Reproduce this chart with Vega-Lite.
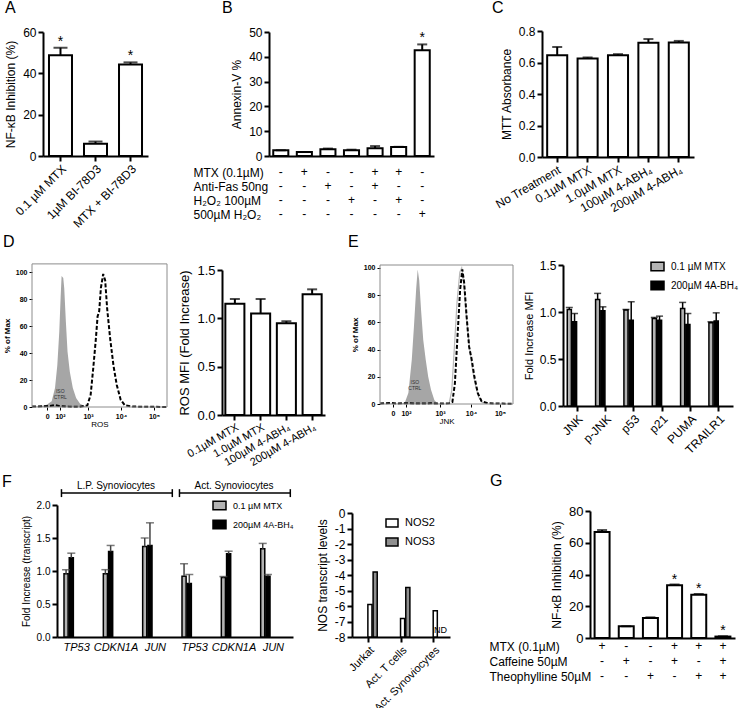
{
  "$schema": "https://vega.github.io/schema/vega-lite/v6.json",
  "padding": 0,
  "background": "white",
  "usermeta": {"embedOptions": {"actions": false}},
  "spacing": 0,
  "resolve": {"legend": {"color": "independent", "fill": "independent"}, "scale": {"color": "independent", "fill": "independent"}},
  "config": {
    "font": "Liberation Sans",
    "view": {"stroke": null},
    "axis": {"grid": false, "domainColor": "black", "domainWidth": 2, "tickColor": "black", "tickWidth": 2, "tickSize": 5, "labelColor": "black", "labelFontSize": 11, "titleFontSize": 11, "titleFontWeight": "normal", "titleColor": "black", "labelPadding": 2, "labelOverlap": false, "labelFlush": false, "titlePadding": 5},
    "legend": {"labelColor": "black", "labelFontSize": 10, "symbolStrokeColor": "black", "symbolStrokeWidth": 1.5, "rowPadding": 4, "labelOffset": 6, "padding": 0, "symbolType": "M-1,-0.65H1V0.65H-1Z", "symbolSize": 169, "title": null},
    "title": {"anchor": "start", "frame": "group", "offset": 0, "baseline": "alphabetic", "fontSize": 16, "fontWeight": "normal", "color": "black"},
    "text": {"color": "black"}
  },
  "vconcat": [
    {
      "spacing": 0, "bounds": "flush",
      "hconcat": [
        {
          "width": 230, "height": 230,
          "title": {"text": "A", "dx": 5, "dy": 16},
          "data": {"values": [
            {"t": "0.1 µM MTX", "value": 48.8, "upper": 52.4, "sig": "*"},
            {"t": "1µM BI-78D3", "value": 5.9, "upper": 7.0, "sig": ""},
            {"t": "MTX + BI-78D3", "value": 44.3, "upper": 45.3, "sig": "*"}
          ]},
          "encoding": {"x": {"field": "t", "type": "nominal", "sort": null, "scale": {"range": [43, 148], "paddingInner": 0.343, "paddingOuter": 0.171}, "axis": {"title": null, "labelAngle": -45, "offset": -78, "labelFontSize": 12}}},
          "layer": [
            {"mark": {"type": "bar", "fill": "white", "stroke": "black", "strokeWidth": 2},
             "encoding": {"y": {"field": "value", "type": "quantitative", "scale": {"domain": [0, 60], "range": [152, 28], "nice": false}, "axis": {"title": "NF-κB Inhibition (%)", "values": [0, 20, 40, 60], "offset": -43, "titleFontSize": 12, "labelFontSize": 12}}}},
            {"mark": {"type": "rule", "color": "black", "strokeWidth": 2}, "encoding": {"y": {"field": "value", "type": "quantitative"}, "y2": {"field": "upper"}}},
            {"mark": {"type": "tick", "color": "black", "thickness": 2, "size": 14}, "encoding": {"y": {"field": "upper", "type": "quantitative"}}},
            {"mark": {"type": "text", "fontSize": 14, "baseline": "alphabetic", "dy": -2}, "encoding": {"y": {"field": "upper", "type": "quantitative"}, "text": {"field": "sig"}}}
          ]
        },
        {
          "width": 260, "height": 230,
          "title": {"text": "B", "dx": -8, "dy": 16},
          "resolve": {"scale": {"y": "independent"}, "axis": {"y": "independent"}},
          "layer": [
            {
              "data": {"values": [
                {"bar": "1", "value": 2.3, "upper": 2.3, "sig": ""},
                {"bar": "2", "value": 1.6, "upper": 1.6, "sig": ""},
                {"bar": "3", "value": 2.7, "upper": 3.0, "sig": ""},
                {"bar": "4", "value": 2.3, "upper": 2.55, "sig": ""},
                {"bar": "5", "value": 3.1, "upper": 4.0, "sig": ""},
                {"bar": "6", "value": 3.6, "upper": 3.7, "sig": ""},
                {"bar": "7", "value": 42.6, "upper": 45.0, "sig": "*"}
              ]},
              "encoding": {"x": {"field": "bar", "type": "nominal", "sort": null, "scale": {"range": [39, 204], "paddingInner": 0.36, "paddingOuter": 0.18}, "axis": {"title": null, "labels": false, "ticks": false, "offset": -78}}},
              "layer": [
                {"mark": {"type": "bar", "fill": "white", "stroke": "black", "strokeWidth": 2},
                 "encoding": {"y": {"field": "value", "type": "quantitative", "scale": {"domain": [0, 50], "range": [152, 28], "nice": false}, "axis": {"title": "Annexin-V %", "values": [0, 10, 20, 30, 40, 50], "offset": -39, "titleFontSize": 12, "labelFontSize": 12}}}},
                {"mark": {"type": "rule", "color": "black", "strokeWidth": 2}, "encoding": {"y": {"field": "value", "type": "quantitative"}, "y2": {"field": "upper"}}},
                {"mark": {"type": "tick", "color": "black", "thickness": 2, "size": 10}, "encoding": {"y": {"field": "upper", "type": "quantitative"}}},
                {"mark": {"type": "text", "fontSize": 14, "baseline": "alphabetic", "dy": -2}, "encoding": {"y": {"field": "upper", "type": "quantitative"}, "text": {"field": "sig"}}}
              ]
            },
            {
              "data": {"values": [
                {"bar": "1", "cond": "MTX (0.1µM)", "sign": "-"}, {"bar": "2", "cond": "MTX (0.1µM)", "sign": "+"}, {"bar": "3", "cond": "MTX (0.1µM)", "sign": "-"}, {"bar": "4", "cond": "MTX (0.1µM)", "sign": "-"}, {"bar": "5", "cond": "MTX (0.1µM)", "sign": "+"}, {"bar": "6", "cond": "MTX (0.1µM)", "sign": "+"}, {"bar": "7", "cond": "MTX (0.1µM)", "sign": "-"},
                {"bar": "1", "cond": "Anti-Fas 50ng", "sign": "-"}, {"bar": "2", "cond": "Anti-Fas 50ng", "sign": "-"}, {"bar": "3", "cond": "Anti-Fas 50ng", "sign": "+"}, {"bar": "4", "cond": "Anti-Fas 50ng", "sign": "-"}, {"bar": "5", "cond": "Anti-Fas 50ng", "sign": "+"}, {"bar": "6", "cond": "Anti-Fas 50ng", "sign": "-"}, {"bar": "7", "cond": "Anti-Fas 50ng", "sign": "-"},
                {"bar": "1", "cond": "H₂O₂ 100µM", "sign": "-"}, {"bar": "2", "cond": "H₂O₂ 100µM", "sign": "-"}, {"bar": "3", "cond": "H₂O₂ 100µM", "sign": "-"}, {"bar": "4", "cond": "H₂O₂ 100µM", "sign": "+"}, {"bar": "5", "cond": "H₂O₂ 100µM", "sign": "-"}, {"bar": "6", "cond": "H₂O₂ 100µM", "sign": "+"}, {"bar": "7", "cond": "H₂O₂ 100µM", "sign": "-"},
                {"bar": "1", "cond": "500µM H₂O₂", "sign": "-"}, {"bar": "2", "cond": "500µM H₂O₂", "sign": "-"}, {"bar": "3", "cond": "500µM H₂O₂", "sign": "-"}, {"bar": "4", "cond": "500µM H₂O₂", "sign": "-"}, {"bar": "5", "cond": "500µM H₂O₂", "sign": "-"}, {"bar": "6", "cond": "500µM H₂O₂", "sign": "-"}, {"bar": "7", "cond": "500µM H₂O₂", "sign": "+"}
              ]},
              "mark": {"type": "text", "fontSize": 12},
              "encoding": {
                "x": {"field": "bar", "type": "nominal", "sort": null, "title": null},
                "y": {"field": "cond", "type": "nominal", "sort": null, "scale": {"range": [168, 210], "padding": 0}, "axis": {"orient": "left", "title": null, "domain": false, "ticks": false, "tickSize": 0, "labelAlign": "left", "labelPadding": 37, "labelFontSize": 12}},
                "text": {"field": "sign"}
              }
            }
          ]
        },
        {
          "width": 250, "height": 230,
          "title": {"text": "C", "dx": 2, "dy": 16},
          "data": {"values": [
            {"t": "No Treatment", "value": 0.646, "upper": 0.699},
            {"t": "0.1µM MTX", "value": 0.625, "upper": 0.632},
            {"t": "1.0µM MTX", "value": 0.646, "upper": 0.653},
            {"t": "100µM 4-ABH₄", "value": 0.726, "upper": 0.749},
            {"t": "200µM 4-ABH₄", "value": 0.727, "upper": 0.737}
          ]},
          "encoding": {"x": {"field": "t", "type": "nominal", "sort": null, "scale": {"range": [52, 204], "paddingInner": 0.34, "paddingOuter": 0.17}, "axis": {"title": null, "labelAngle": -30, "offset": -77, "labelFontSize": 12}}},
          "layer": [
            {"mark": {"type": "bar", "fill": "white", "stroke": "black", "strokeWidth": 2},
             "encoding": {"y": {"field": "value", "type": "quantitative", "scale": {"domain": [0, 0.8], "range": [153, 27], "nice": false}, "axis": {"title": "MTT Absorbance", "values": [0, 0.2, 0.4, 0.6, 0.8], "format": ".1f", "offset": -52, "titleFontSize": 12, "labelFontSize": 12}}}},
            {"mark": {"type": "rule", "color": "black", "strokeWidth": 2}, "encoding": {"y": {"field": "value", "type": "quantitative"}, "y2": {"field": "upper"}}},
            {"mark": {"type": "tick", "color": "black", "thickness": 2, "size": 10}, "encoding": {"y": {"field": "upper", "type": "quantitative"}}}
          ]
        }
      ]
    },
    {
      "spacing": 0, "bounds": "flush",
      "resolve": {"legend": {"color": "independent"}, "scale": {"color": "independent"}},
      "hconcat": [
        {
          "width": 222, "height": 238,
          "title": {"text": "D", "dx": 3, "dy": 19},
          "layer": [
            {"data": {"values": [
              {"u": 1.303, "pct": 0}, {"u": 1.545, "pct": 0.5}, {"u": 1.748, "pct": 1.7}, {"u": 1.9, "pct": 4.2}, {"u": 2.0, "pct": 14}, {"u": 2.07, "pct": 31}, {"u": 2.13, "pct": 56}, {"u": 2.17, "pct": 81}, {"u": 2.2, "pct": 97}, {"u": 2.25, "pct": 95.6}, {"u": 2.28, "pct": 88}, {"u": 2.33, "pct": 63}, {"u": 2.38, "pct": 41}, {"u": 2.45, "pct": 26}, {"u": 2.54, "pct": 14}, {"u": 2.64, "pct": 6.7}, {"u": 2.76, "pct": 2.5}, {"u": 2.91, "pct": 0.5}, {"u": 3.0, "pct": 0}
             ]},
             "mark": {"type": "area", "color": "#a6a6a6"},
             "encoding": {
               "x": {"field": "u", "type": "quantitative", "scale": {"domain": [1.303, 5.394], "range": [32, 167], "nice": false, "zero": false}, "axis": {"title": "ROS", "titleFontSize": 8, "titlePadding": 1, "values": [1.76, 2.15, 3, 4, 5], "labelExpr": "datum.value < 1.9 ? '0' : datum.value < 2.5 ? '10²' : datum.value < 3.5 ? '10³' : datum.value < 4.5 ? '10⁴' : '10⁵'", "labelFontSize": 7, "labelFontWeight": "bold", "tickSize": 3, "tickWidth": 1, "domain": false, "offset": -66}},
               "y": {"field": "pct", "type": "quantitative", "scale": {"domain": [0, 106], "range": [172, 28.9], "nice": false}, "axis": {"title": "% of Max", "titleFontSize": 8, "titleFontWeight": "bold", "titlePadding": 4, "values": [0, 20, 40, 60, 80, 100], "labelFontSize": 7, "labelFontWeight": "bold", "tickSize": 3, "tickWidth": 1, "domain": false, "offset": -32}}
             }},
            {"data": {"values": [
              {"u": 1.303, "pct": 0.3}, {"u": 1.6, "pct": 0.5}, {"u": 1.85, "pct": 0.8}, {"u": 2.0, "pct": 1.5}, {"u": 2.15, "pct": 0.6}, {"u": 2.4, "pct": 0.3}, {"u": 2.76, "pct": 0.2}, {"u": 2.98, "pct": 1.2}, {"u": 3.08, "pct": 9}, {"u": 3.16, "pct": 29}, {"u": 3.24, "pct": 51}, {"u": 3.29, "pct": 67}, {"u": 3.34, "pct": 71}, {"u": 3.39, "pct": 88}, {"u": 3.46, "pct": 98.5}, {"u": 3.52, "pct": 94}, {"u": 3.58, "pct": 73}, {"u": 3.67, "pct": 51}, {"u": 3.77, "pct": 31}, {"u": 3.87, "pct": 16.5}, {"u": 3.99, "pct": 5.4}, {"u": 4.12, "pct": 1.2}, {"u": 4.37, "pct": 0.3}, {"u": 4.8, "pct": 0.2}, {"u": 5.394, "pct": 0}
             ]},
             "mark": {"type": "line", "color": "black", "strokeWidth": 2, "strokeDash": [4, 2]},
             "encoding": {"x": {"field": "u", "type": "quantitative"}, "y": {"field": "pct", "type": "quantitative"}}},
            {"data": {"values": [{}]}, "mark": {"type": "rect", "filled": false, "color": "#8c8c8c", "strokeWidth": 1}, "encoding": {"x": {"datum": 1.303}, "x2": {"datum": 5.394}, "y": {"datum": 0}, "y2": {"datum": 106}}},
            {"data": {"values": [{}]}, "mark": {"type": "text", "fontSize": 5, "lineHeight": 6, "color": "#333333"}, "encoding": {"x": {"datum": 2.16}, "y": {"datum": 12}, "text": {"value": ["ISO", "CTRL"]}}}
          ]
        },
        {
          "width": 158, "height": 238,
          "data": {"values": [
            {"t": "0.1µM MTX", "value": 1.15, "upper": 1.2},
            {"t": "1.0µM MTX", "value": 1.05, "upper": 1.2},
            {"t": "100µM 4-ABH₄", "value": 0.95, "upper": 0.97},
            {"t": "200µM 4-ABH₄", "value": 1.25, "upper": 1.3}
          ]},
          "encoding": {"x": {"field": "t", "type": "nominal", "sort": null, "scale": {"range": [0, 103], "paddingInner": 0.26, "paddingOuter": 0.13}, "axis": {"title": null, "labelAngle": -30, "offset": -58, "labelFontSize": 11, "labelPadding": 1}}},
          "layer": [
            {"mark": {"type": "bar", "fill": "white", "stroke": "black", "strokeWidth": 2},
             "encoding": {"y": {"field": "value", "type": "quantitative", "scale": {"domain": [0, 1.5], "range": [180, 35], "nice": false}, "axis": {"title": "ROS MFI (Fold Increase)", "values": [0, 0.5, 1, 1.5], "format": ".1f", "titleFontSize": 13, "labelFontSize": 13}}}},
            {"mark": {"type": "rule", "color": "black", "strokeWidth": 2}, "encoding": {"y": {"field": "value", "type": "quantitative"}, "y2": {"field": "upper"}}},
            {"mark": {"type": "tick", "color": "black", "thickness": 2, "size": 10}, "encoding": {"y": {"field": "upper", "type": "quantitative"}}}
          ]
        },
        {
          "width": 183, "height": 238,
          "title": {"text": "E", "dx": -32, "dy": 19},
          "layer": [
            {"data": {"values": [
              {"u": 1.065, "pct": 0}, {"u": 1.76, "pct": 0.2}, {"u": 1.87, "pct": 1.2}, {"u": 1.98, "pct": 8}, {"u": 2.09, "pct": 32.6}, {"u": 2.16, "pct": 57}, {"u": 2.23, "pct": 84}, {"u": 2.28, "pct": 98.8}, {"u": 2.33, "pct": 91}, {"u": 2.39, "pct": 69}, {"u": 2.46, "pct": 47}, {"u": 2.54, "pct": 32.6}, {"u": 2.62, "pct": 20}, {"u": 2.71, "pct": 10.5}, {"u": 2.82, "pct": 2.7}, {"u": 2.93, "pct": 0.2}, {"u": 3.0, "pct": 0}
             ]},
             "mark": {"type": "area", "color": "#a6a6a6"},
             "encoding": {
               "x": {"field": "u", "type": "quantitative", "scale": {"domain": [1.065, 5.355], "range": [0, 133], "nice": false, "zero": false}, "axis": {"title": "JNK", "titleFontSize": 8, "titlePadding": 1, "values": [1.484, 1.903, 3, 4, 4.935], "labelExpr": "datum.value < 1.7 ? '0' : datum.value < 2.5 ? '10²' : datum.value < 3.5 ? '10³' : datum.value < 4.5 ? '10⁴' : '10⁵'", "labelFontSize": 7, "labelFontWeight": "bold", "tickSize": 3, "tickWidth": 1, "domain": false, "offset": -69}},
               "y": {"field": "pct", "type": "quantitative", "scale": {"domain": [0, 102.2], "range": [169, 30], "nice": false}, "axis": {"title": "% of Max", "titleFontSize": 8, "titleFontWeight": "bold", "titlePadding": 4, "values": [0, 20, 40, 60, 80, 100], "labelFontSize": 7, "labelFontWeight": "bold", "tickSize": 3, "tickWidth": 1, "domain": false}}
             }},
            {"data": {"values": [
              {"u": 3.3, "pct": 1}, {"u": 3.38, "pct": 10}, {"u": 3.46, "pct": 40}, {"u": 3.55, "pct": 75}, {"u": 3.64, "pct": 97}, {"u": 3.7, "pct": 100}, {"u": 3.77, "pct": 88}, {"u": 3.86, "pct": 62}, {"u": 3.95, "pct": 42}, {"u": 4.05, "pct": 25}, {"u": 4.15, "pct": 13}, {"u": 4.25, "pct": 5}, {"u": 4.38, "pct": 1}, {"u": 4.5, "pct": 0.3}
             ]},
             "mark": {"type": "line", "color": "#b8b8b8", "strokeWidth": 1.2},
             "encoding": {"x": {"field": "u", "type": "quantitative"}, "y": {"field": "pct", "type": "quantitative"}}},
            {"data": {"values": [
              {"u": 1.065, "pct": 0.3}, {"u": 1.4, "pct": 0.8}, {"u": 1.6, "pct": 0.3}, {"u": 1.9, "pct": 0.6}, {"u": 2.3, "pct": 0.3}, {"u": 2.7, "pct": 0.5}, {"u": 3.1, "pct": 0.3}, {"u": 3.3, "pct": 0.6}, {"u": 3.4, "pct": 1.5}, {"u": 3.48, "pct": 15}, {"u": 3.57, "pct": 52}, {"u": 3.65, "pct": 84}, {"u": 3.72, "pct": 99}, {"u": 3.78, "pct": 89}, {"u": 3.86, "pct": 64}, {"u": 3.94, "pct": 42}, {"u": 4.02, "pct": 33}, {"u": 4.11, "pct": 20}, {"u": 4.22, "pct": 8}, {"u": 4.34, "pct": 2}, {"u": 4.56, "pct": 0.5}, {"u": 5.0, "pct": 0.3}, {"u": 5.355, "pct": 0.2}
             ]},
             "mark": {"type": "line", "color": "black", "strokeWidth": 2, "strokeDash": [4, 2]},
             "encoding": {"x": {"field": "u", "type": "quantitative"}, "y": {"field": "pct", "type": "quantitative"}}},
            {"data": {"values": [{}]}, "mark": {"type": "rect", "filled": false, "color": "#8c8c8c", "strokeWidth": 1}, "encoding": {"x": {"datum": 1.065}, "x2": {"datum": 5.355}, "y": {"datum": 0}, "y2": {"datum": 102.2}}},
            {"data": {"values": [{}]}, "mark": {"type": "text", "fontSize": 5, "lineHeight": 6, "color": "#333333"}, "encoding": {"x": {"datum": 2.19}, "y": {"datum": 16}, "text": {"value": ["ISO", "CTRL"]}}}
          ]
        },
        {
          "width": 177, "height": 238,
          "data": {"values": [
            {"m": "JNK", "trt": "0.1 µM MTX", "value": 1.027, "upper": 1.048},
            {"m": "JNK", "trt": "200µM 4A-BH₄", "value": 0.896, "upper": 0.984},
            {"m": "p-JNK", "trt": "0.1 µM MTX", "value": 1.134, "upper": 1.198},
            {"m": "p-JNK", "trt": "200µM 4A-BH₄", "value": 1.013, "upper": 1.055},
            {"m": "p53", "trt": "0.1 µM MTX", "value": 1.02, "upper": 1.027},
            {"m": "p53", "trt": "200µM 4A-BH₄", "value": 0.913, "upper": 1.109},
            {"m": "p21", "trt": "0.1 µM MTX", "value": 0.931, "upper": 0.942},
            {"m": "p21", "trt": "200µM 4A-BH₄", "value": 0.913, "upper": 0.956},
            {"m": "PUMA", "trt": "0.1 µM MTX", "value": 1.038, "upper": 1.102},
            {"m": "PUMA", "trt": "200µM 4A-BH₄", "value": 0.867, "upper": 0.984},
            {"m": "TRAILR1", "trt": "0.1 µM MTX", "value": 0.885, "upper": 0.896},
            {"m": "TRAILR1", "trt": "200µM 4A-BH₄", "value": 0.903, "upper": 0.991}
          ]},
          "encoding": {
            "x": {"field": "m", "type": "nominal", "sort": null, "scale": {"range": [0, 170], "paddingInner": 0.3, "paddingOuter": 0.15}, "axis": {"title": null, "labelAngle": -45, "offset": -67, "labelFontSize": 12}},
            "xOffset": {"field": "trt", "type": "nominal", "sort": null, "scale": {"paddingInner": 0.216, "paddingOuter": 0}}
          },
          "layer": [
            {"mark": {"type": "bar", "stroke": "black", "strokeWidth": 1.5},
             "encoding": {
               "y": {"field": "value", "type": "quantitative", "scale": {"domain": [0, 1.5], "range": [171, 30], "nice": false}, "axis": {"title": "Fold Increase MFI", "values": [0, 0.5, 1, 1.5], "format": ".1f", "labelFontSize": 12, "titleFontSize": 11}},
               "color": {"field": "trt", "type": "nominal", "sort": null, "scale": {"domain": ["0.1 µM MTX", "200µM 4A-BH₄"], "range": ["#b3b3b3", "#000000"]}, "legend": {"orient": "none", "legendX": 87, "legendY": 24}}
             }},
            {"mark": {"type": "rule", "color": "black", "strokeWidth": 1.5}, "encoding": {"y": {"field": "value", "type": "quantitative"}, "y2": {"field": "upper"}}},
            {"mark": {"type": "tick", "color": "black", "thickness": 1.5, "size": 7}, "encoding": {"y": {"field": "upper", "type": "quantitative"}}}
          ]
        }
      ]
    },
    {
      "spacing": 0, "bounds": "flush",
      "resolve": {"legend": {"color": "independent", "fill": "independent"}, "scale": {"color": "independent", "fill": "independent"}},
      "hconcat": [
        {
          "width": 352, "height": 240,
          "title": {"text": "F", "dx": 2, "dy": 15},
          "layer": [
            {
              "data": {"values": [
                {"g": "LP_TP53", "trt": "0.1 µM MTX", "value": 0.957, "upper": 1.02},
                {"g": "LP_TP53", "trt": "200µM 4A-BH₄", "value": 1.2, "upper": 1.27},
                {"g": "LP_CDKN1A", "trt": "0.1 µM MTX", "value": 0.96, "upper": 1.02},
                {"g": "LP_CDKN1A", "trt": "200µM 4A-BH₄", "value": 1.296, "upper": 1.387},
                {"g": "LP_JUN", "trt": "0.1 µM MTX", "value": 1.37, "upper": 1.5},
                {"g": "LP_JUN", "trt": "200µM 4A-BH₄", "value": 1.387, "upper": 1.73},
                {"g": "Act_TP53", "trt": "0.1 µM MTX", "value": 0.92, "upper": 1.11},
                {"g": "Act_TP53", "trt": "200µM 4A-BH₄", "value": 0.81, "upper": 0.947},
                {"g": "Act_CDKN1A", "trt": "0.1 µM MTX", "value": 0.9, "upper": 0.916},
                {"g": "Act_CDKN1A", "trt": "200µM 4A-BH₄", "value": 1.26, "upper": 1.3},
                {"g": "Act_JUN", "trt": "0.1 µM MTX", "value": 1.337, "upper": 1.418},
                {"g": "Act_JUN", "trt": "200µM 4A-BH₄", "value": 0.92, "upper": 0.947}
              ]},
              "encoding": {
                "x": {"field": "g", "type": "nominal", "sort": null, "scale": {"domain": ["LP_TP53", "LP_CDKN1A", "LP_JUN", "Act_TP53", "Act_CDKN1A", "Act_JUN"], "range": [57, 293], "paddingInner": 0.356, "paddingOuter": 0.178}, "axis": {"title": null, "labelAngle": 0, "labelExpr": "split(datum.label, '_')[1]", "labelFontStyle": "italic", "labelFontSize": 11, "ticks": false, "labelPadding": 4, "offset": -82}},
                "xOffset": {"field": "trt", "type": "nominal", "sort": null, "scale": {"paddingInner": 0.29, "paddingOuter": 0}}
              },
              "layer": [
                {"mark": {"type": "bar", "stroke": "black", "strokeWidth": 1.5},
                 "encoding": {
                   "y": {"field": "value", "type": "quantitative", "scale": {"domain": [0, 2], "range": [158, 26], "nice": false}, "axis": {"title": "Fold Increase (transcript)", "titleFontSize": 10, "values": [0, 0.5, 1, 1.5, 2], "format": ".1f", "labelFontSize": 10, "offset": -57}},
                   "color": {"field": "trt", "type": "nominal", "sort": null, "scale": {"domain": ["0.1 µM MTX", "200µM 4A-BH₄"], "range": ["#b3b3b3", "#000000"]}, "legend": {"orient": "none", "legendX": 212, "legendY": 19, "labelFontSize": 9}}
                 }},
                {"mark": {"type": "rule", "color": "#444444", "strokeWidth": 1.5}, "encoding": {"y": {"field": "value", "type": "quantitative"}, "y2": {"field": "upper"}}},
                {"mark": {"type": "tick", "color": "#444444", "thickness": 1.5, "size": 8}, "encoding": {"y": {"field": "upper", "type": "quantitative"}}}
              ]
            },
            {
              "data": {"values": [
                {"from": "LP_TP53", "to": "LP_JUN", "mid": "LP_CDKN1A", "label": "L.P. Synoviocytes"},
                {"from": "Act_TP53", "to": "Act_JUN", "mid": "Act_CDKN1A", "label": "Act. Synoviocytes"}
              ]},
              "layer": [
                {"mark": {"type": "rule", "color": "black", "strokeWidth": 1.5}, "encoding": {"x": {"field": "from", "type": "nominal", "bandPosition": -0.1, "title": null}, "x2": {"field": "to", "bandPosition": 1.17}, "y": {"datum": 2.18}}},
                {"mark": {"type": "rule", "color": "black", "strokeWidth": 1.5}, "encoding": {"x": {"field": "from", "type": "nominal", "bandPosition": -0.1, "title": null}, "y": {"datum": 2.12}, "y2": {"datum": 2.24}}},
                {"mark": {"type": "rule", "color": "black", "strokeWidth": 1.5}, "encoding": {"x": {"field": "to", "type": "nominal", "bandPosition": 1.17, "title": null}, "y": {"datum": 2.12}, "y2": {"datum": 2.24}}},
                {"mark": {"type": "text", "fontSize": 10, "baseline": "alphabetic"}, "encoding": {"x": {"field": "mid", "type": "nominal", "title": null}, "y": {"datum": 2.235}, "text": {"field": "label"}}}
              ]
            }
          ]
        },
        {
          "width": 238, "height": 240,
          "data": {"values": [
            {"cell": "Jurkat", "gene": "NOS2", "value": -5.9, "nd": ""},
            {"cell": "Jurkat", "gene": "NOS3", "value": -3.8, "nd": ""},
            {"cell": "Act. T cells", "gene": "NOS2", "value": -6.8, "nd": ""},
            {"cell": "Act. T cells", "gene": "NOS3", "value": -4.8, "nd": ""},
            {"cell": "Act. Synoviocytes", "gene": "NOS2", "value": -6.3, "nd": ""},
            {"cell": "Act. Synoviocytes", "gene": "NOS3", "value": null, "nd": "ND"}
          ]},
          "encoding": {
            "x": {"field": "cell", "type": "nominal", "sort": null, "scale": {"range": [0, 98], "paddingInner": 0.33, "paddingOuter": 0.165}, "axis": {"title": null, "labelAngle": -45, "offset": -82, "labelFontSize": 11}},
            "xOffset": {"field": "gene", "type": "nominal", "sort": null, "scale": {"paddingInner": 0.24, "paddingOuter": 0}}
          },
          "layer": [
            {"mark": {"type": "bar", "stroke": "black", "strokeWidth": 1.5},
             "encoding": {
               "y": {"field": "value", "type": "quantitative", "scale": {"domain": [-8, 0], "range": [158, 34], "nice": false, "zero": false}, "axis": {"title": "NOS transcript levels", "titleFontSize": 12, "labelFontSize": 12, "labelOverlap": false, "values": [-8, -7, -6, -5, -4, -3, -2, -1, 0], "labelExpr": "datum.value < 0 ? '-' + abs(datum.value) : '0'"}},
               "y2": {"datum": -8},
               "fill": {"field": "gene", "type": "nominal", "sort": null, "scale": {"domain": ["NOS2", "NOS3"], "range": ["#ffffff", "#8f8f8f"]}, "legend": {"orient": "none", "legendX": 33, "legendY": 37, "labelFontSize": 11, "symbolSize": 144, "rowPadding": 5}}
             }},
            {"mark": {"type": "text", "fontSize": 9, "baseline": "alphabetic"}, "encoding": {"y": {"datum": -7.75, "type": "quantitative", "axis": {"title": "NOS transcript levels", "titleFontSize": 12, "labelFontSize": 12, "labelOverlap": false, "values": [-8, -7, -6, -5, -4, -3, -2, -1, 0], "labelExpr": "datum.value < 0 ? '-' + abs(datum.value) : '0'"}}, "text": {"field": "nd"}}}
          ]
        },
        {
          "width": 150, "height": 240,
          "title": {"text": "G", "dx": -100, "dy": 14},
          "resolve": {"scale": {"y": "independent"}, "axis": {"y": "independent"}},
          "layer": [
            {
              "data": {"values": [
                {"bar": "1", "value": 66.8, "upper": 68.0, "sig": ""},
                {"bar": "2", "value": 7.4, "upper": 7.4, "sig": ""},
                {"bar": "3", "value": 12.6, "upper": 13.0, "sig": ""},
                {"bar": "4", "value": 33.2, "upper": 33.7, "sig": "*"},
                {"bar": "5", "value": 27.2, "upper": 27.7, "sig": "*"},
                {"bar": "6", "value": 0.9, "upper": 1.1, "sig": "*"}
              ]},
              "encoding": {"x": {"field": "bar", "type": "nominal", "sort": null, "scale": {"range": [0, 145], "paddingInner": 0.38, "paddingOuter": 0.19}, "axis": {"title": null, "labels": false, "ticks": false, "offset": -81}}},
              "layer": [
                {"mark": {"type": "bar", "fill": "white", "stroke": "black", "strokeWidth": 2},
                 "encoding": {"y": {"field": "value", "type": "quantitative", "scale": {"domain": [0, 80], "range": [159, 32], "nice": false}, "axis": {"title": "NF-κB Inhibition (%)", "values": [0, 20, 40, 60, 80], "titleFontSize": 12, "labelFontSize": 13}}}},
                {"mark": {"type": "rule", "color": "black", "strokeWidth": 2}, "encoding": {"y": {"field": "value", "type": "quantitative"}, "y2": {"field": "upper"}}},
                {"mark": {"type": "tick", "color": "black", "thickness": 2, "size": 10}, "encoding": {"y": {"field": "upper", "type": "quantitative"}}},
                {"mark": {"type": "text", "fontSize": 14, "baseline": "alphabetic", "dy": -1}, "encoding": {"y": {"field": "upper", "type": "quantitative"}, "text": {"field": "sig"}}}
              ]
            },
            {
              "data": {"values": [
                {"bar": "1", "cond": "MTX (0.1µM)", "sign": "+"}, {"bar": "2", "cond": "MTX (0.1µM)", "sign": "-"}, {"bar": "3", "cond": "MTX (0.1µM)", "sign": "-"}, {"bar": "4", "cond": "MTX (0.1µM)", "sign": "+"}, {"bar": "5", "cond": "MTX (0.1µM)", "sign": "+"}, {"bar": "6", "cond": "MTX (0.1µM)", "sign": "+"},
                {"bar": "1", "cond": "Caffeine 50µM", "sign": "-"}, {"bar": "2", "cond": "Caffeine 50µM", "sign": "+"}, {"bar": "3", "cond": "Caffeine 50µM", "sign": "-"}, {"bar": "4", "cond": "Caffeine 50µM", "sign": "+"}, {"bar": "5", "cond": "Caffeine 50µM", "sign": "-"}, {"bar": "6", "cond": "Caffeine 50µM", "sign": "+"},
                {"bar": "1", "cond": "Theophylline 50µM", "sign": "-"}, {"bar": "2", "cond": "Theophylline 50µM", "sign": "-"}, {"bar": "3", "cond": "Theophylline 50µM", "sign": "+"}, {"bar": "4", "cond": "Theophylline 50µM", "sign": "-"}, {"bar": "5", "cond": "Theophylline 50µM", "sign": "+"}, {"bar": "6", "cond": "Theophylline 50µM", "sign": "+"}
              ]},
              "mark": {"type": "text", "fontSize": 12},
              "encoding": {
                "x": {"field": "bar", "type": "nominal", "sort": null, "title": null},
                "y": {"field": "cond", "type": "nominal", "sort": null, "scale": {"range": [167, 197], "padding": 0}, "axis": {"orient": "left", "title": null, "domain": false, "ticks": false, "tickSize": 0, "labelAlign": "left", "labelPadding": 101, "labelFontSize": 12}},
                "text": {"field": "sign"}
              }
            }
          ]
        }
      ]
    }
  ]
}
